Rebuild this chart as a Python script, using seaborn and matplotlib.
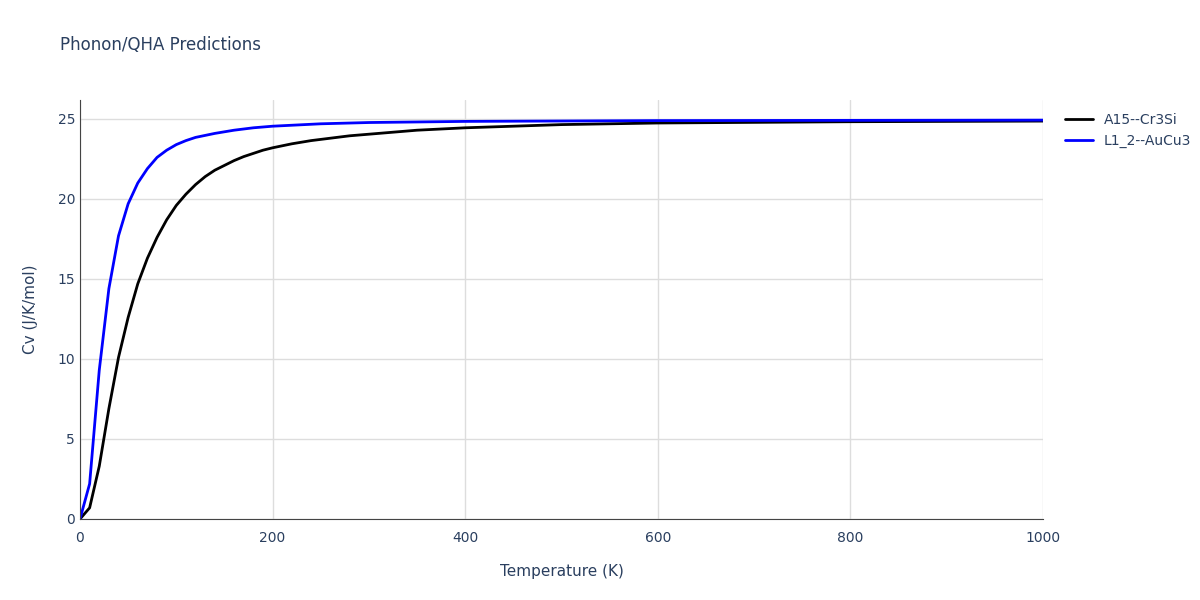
import matplotlib
matplotlib.use("Agg")
import matplotlib.pyplot as plt
import seaborn as sns
import pandas as pd

t_a15 = [0,10,20,30,40,50,60,70,80,90,100,110,120,130,140,150,160,170,180,190,200,220,240,260,280,300,350,400,500,600,800,1000]
cv_a15 = [0,0.7,3.3,6.9,10.1,12.6,14.7,16.3,17.6,18.7,19.6,20.3,20.9,21.4,21.8,22.1,22.4,22.65,22.85,23.05,23.2,23.45,23.65,23.8,23.95,24.05,24.3,24.45,24.65,24.75,24.83,24.87]
t_l12 = [0,10,20,30,40,50,60,70,80,90,100,110,120,140,160,180,200,250,300,400,600,1000]
cv_l12 = [0,2.2,9.3,14.4,17.7,19.7,21.0,21.9,22.6,23.05,23.4,23.65,23.85,24.1,24.3,24.45,24.55,24.7,24.78,24.85,24.9,24.93]
names = ["A15--Cr3Si", "L1_2--AuCu3"]
colors = ["black", "blue"]

df = pd.concat([
    pd.DataFrame({"T": t_a15, "Cv": cv_a15, "s": names[0]}),
    pd.DataFrame({"T": t_l12, "Cv": cv_l12, "s": names[1]}),
])

sns.set_style("white")
fig = plt.figure(figsize=(12, 6), dpi=100)
ax = fig.add_axes([80/1200, 81/600, 963/1200, 419/600])
sns.lineplot(data=df, x="T", y="Cv", hue="s", palette=colors, linewidth=2, ax=ax, legend=True)
ax.set_xlim(0, 1000)
ax.set_ylim(0, 419/16)
ax.set_xticks([0,200,400,600,800,1000])
ax.set_yticks([0,5,10,15,20,25])
ax.set_xticks(range(0,1001,50), minor=True)
ax.grid(True, which="major", color="#dddddd", linewidth=1)
ax.tick_params(axis="both", which="major", colors="#444444", labelsize=10, length=0, labelcolor="#2a3f5f")
ax.tick_params(axis="x", which="minor", length=4, color="#444444", direction="out")
ax.tick_params(axis="x", which="major", length=5, color="#444444", direction="out")
for s in ["top", "right"]:
    ax.spines[s].set_visible(False)
ax.spines["left"].set_color("#444444")
ax.spines["bottom"].set_color("#444444")
ax.set_xlabel("Temperature (K)", color="#2a3f5f", fontsize=11, labelpad=14)
ax.set_ylabel("Cv (J/K/mol)", color="#2a3f5f", fontsize=11, labelpad=14)
leg = ax.legend(loc="upper left", bbox_to_anchor=(1.01, 1.0), frameon=False, fontsize=10)
for txt in leg.get_texts():
    txt.set_color("#2a3f5f")
fig.text(60/1200, 1-45/600, "Phonon/QHA Predictions", color="#2a3f5f", fontsize=12, va="center")
fig.savefig("out.png", dpi=100)
